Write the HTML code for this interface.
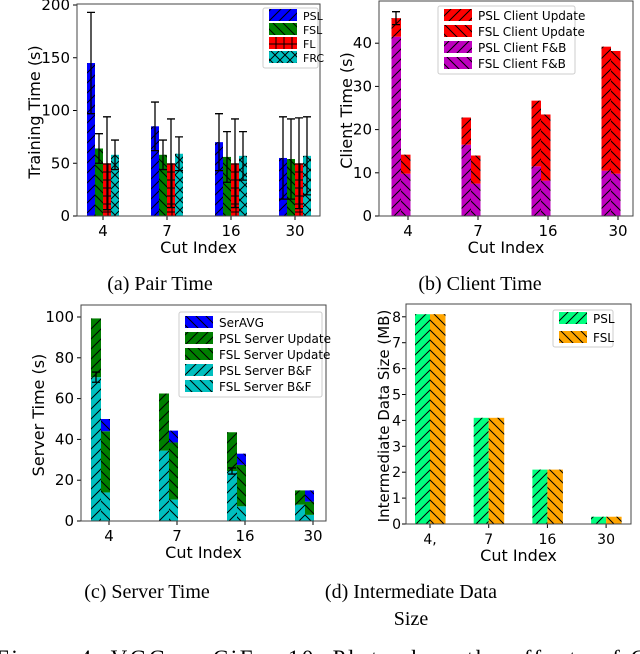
<!DOCTYPE html>
<html><head><meta charset="utf-8"><style>
body{margin:0;background:#fff;width:640px;height:654px;overflow:hidden}
svg{position:absolute;left:0;top:0}
text{font-family:"DejaVu Sans","Liberation Sans",sans-serif;fill:#000}
.cap{font-family:"Liberation Serif",serif;font-size:20px}
</style></head><body>
<svg id="s" width="640" height="654">
<defs>
<pattern id="pf" width="10" height="10" patternUnits="userSpaceOnUse"><path d="M-2,12 L12,-2 M-2,2 L2,-2 M8,12 L12,8" stroke="#000" stroke-width="1"/></pattern>
<pattern id="pb" width="10" height="10" patternUnits="userSpaceOnUse"><path d="M-2,-2 L12,12 M-2,8 L2,12 M8,-2 L12,2" stroke="#000" stroke-width="1"/></pattern>
<pattern id="pp" width="8" height="8" patternUnits="userSpaceOnUse"><path d="M4,0 V8 M0,4 H8" stroke="#000" stroke-width="1"/></pattern>
<pattern id="px" width="10" height="10" patternUnits="userSpaceOnUse"><path d="M0,0 L10,10 M10,0 L0,10" stroke="#000" stroke-width="1"/></pattern>
</defs>
<text class="cap" x="160" y="290" text-anchor="middle">(a) Pair Time</text>
<text class="cap" x="480" y="290" text-anchor="middle">(b) Client Time</text>
<text class="cap" x="147" y="598" text-anchor="middle">(c) Server Time</text>
<text class="cap" x="411" y="598" text-anchor="middle">(d) Intermediate Data</text>
<text class="cap" x="411" y="625" text-anchor="middle">Size</text>
<text class="cap" x="-4" y="666" style="font-size:23px" textLength="650">Figure 4: VGG on CiFar-10. Plots show the effects of C</text>
</svg>
<script>
const cats=["4","7","16","30"];
const catsD=["4,","7","16","30"];
// (a)
const aPSL=[145,85,70,55], aPSLerr=[48,23,27,39];
const aFSL=[64,58,56,54], aFSLerr=[14,14,24,38];
const aFL=[50,50,50,50], aFLerr=[44,42,42,43];
const aFRC=[58,59,57,57], aFRCerr=[14,16,23,37];
const aTicks=[0,50,100,150,200];
// (b)
const bPSLfb=[41.5,16.5,11.5,10.5], bPSLtot=[45.8,22.8,26.7,39.2];
const bFSLfb=[9.8,7.5,8.2,9.8], bFSLtot=[14.2,14,23.5,38.2];
const bTicks=[0,10,20,30,40];
// (c)
const cPSLbf=[70.5,34.5,24.5,8], cPSLtot=[99.3,62.5,43.5,15];
const cFSLbf=[14,10.5,7.2,3], cFSLupd=[44,38.5,27.5,9.5], cSerTot=[50,44.3,33,15];
const cTicks=[0,20,40,60,80,100];
// (d)
const dPSL=[8.1,4.1,2.1,0.28], dFSL=[8.1,4.1,2.1,0.28];
const dTicks=[0,1,2,3,4,5,6,7,8];

const S=document.getElementById('s');const NS="http://www.w3.org/2000/svg";
function el(t,a,p){const e=document.createElementNS(NS,t);for(const k in a)e.setAttribute(k,a[k]);(p||S).appendChild(e);return e;}
function txt(x,y,s,sz,anch,rot){const e=el('text',{x:x,y:y,'font-size':sz,'text-anchor':anch||'middle'});if(rot)e.setAttribute('transform','rotate(-90 '+x+' '+y+')');e.textContent=s;return e;}
function panel(P){
  const g=el('g',{});
  P.y=v=>P.b-(v-0)*P.k;P.x=i=>P.x0+i*P.dx;
  const tg=P.tg||7;
  P.ticks.forEach(t=>{const y=P.y(t);el('line',{x1:P.l-4,x2:P.l,y1:y,y2:y,stroke:'#000'},g);
    const e=txt(P.l-tg,y+5,String(t),P.ts,'end');});
  P.cats.forEach((c,i)=>{const x=P.x(i);el('line',{x1:x,x2:x,y1:P.b,y2:P.b+4,stroke:'#000'},g);
    const e=txt(x,P.b+20,c,P.ts);});
  let e=txt((P.l+P.r)/2,P.b+37,'Cut Index',16);
  e=txt(P.yl,(P.t+P.b)/2+2,P.ylab,P.ys||16,'middle',true);
  P.g=g;return P;
}
function frame(P){const f=el('rect',{x:P.l,y:P.t,width:P.r-P.l,height:P.b-P.t,fill:'none',stroke:'#444','stroke-width':1});}
function bar(P,x,w,v0,v1,col,pat,name){const y1=P.y(v1),y0=P.y(v0);
  const r=el('rect',{x:x,y:y1,width:w,height:y0-y1,fill:col});
  el('rect',{x:x,y:y1,width:w,height:y0-y1,fill:'url(#'+pat+')'});}
function err(P,cx,v,e){const a=P.y(v+e),b=P.y(v-e);el('path',{d:`M${cx},${a}V${b}M${cx-4},${a}H${cx+4}M${cx-4},${b}H${cx+4}`,stroke:'#000','stroke-width':1.3});}
function legend(x,y,w,h,items,fs,name){const g=el('g',{});
  el('rect',{x:x,y:y,width:w,height:h,fill:'#fff',stroke:'#ccc',rx:2},g);
  items.forEach((it,i)=>{el('rect',{x:x+6,y:it[3]-6,width:28,height:12,fill:it[1]},g);el('rect',{x:x+6,y:it[3]-6,width:28,height:12,fill:'url(#'+it[2]+')'},g);
    const t=txt(x+40,it[3]+5,it[0],fs,'start');g.appendChild(t);});}

// Panel a
const A=panel({name:'panel-pair-time',l:77,r:320,t:4,b:216,k:211/200,x0:103,dx:64,cats:cats,ticks:aTicks,ts:15,yl:40,ylab:'Training Time (s)'});
const aSer=[[aPSL,aPSLerr,'#0000ff','pf'],[aFSL,aFSLerr,'#007f00','pb'],[aFL,aFLerr,'#ff0000','pp'],[aFRC,aFRCerr,'#00bfbf','px']];
cats.forEach((c,i)=>aSer.forEach((s,j)=>{const x=A.x(i)-16+j*8;bar(A,x,8,0,s[0][i],s[2],s[3],'bar-a-'+j+'-'+c);}));
cats.forEach((c,i)=>aSer.forEach((s,j)=>{const x=A.x(i)-16+j*8;err(A,x+4,s[0][i],s[1][i]);}));
frame(A);
legend(263,8,55,60,[['PSL','#0000ff','pf',15],['FSL','#007f00','pb',29],['FL','#ff0000','pp',43],['FRC','#00bfbf','px',57]],11,'legend-a');

// Panel b
const B=panel({name:'panel-client-time',l:379,r:633,t:1,b:216,k:4.32,x0:408,dx:70,cats:cats,ticks:bTicks,ts:15,yl:352,ylab:'Client Time (s)'});
cats.forEach((c,i)=>{const x=B.x(i)-16.5;
  bar(B,x,9.5,0,bPSLfb[i],'#bf00bf','pf','bar-psl-client-fb-'+c);bar(B,x,9.5,bPSLfb[i],bPSLtot[i],'#ff0000','pf','bar-psl-client-update-'+c);
  bar(B,x+9.5,9.5,0,bFSLfb[i],'#bf00bf','pb','bar-fsl-client-fb-'+c);bar(B,x+9.5,9.5,bFSLfb[i],bFSLtot[i],'#ff0000','pb','bar-fsl-client-update-'+c);});
err(B,B.x(0)-12,bPSLtot[0],1.5);
frame(B);
legend(438,6,137,68,[['PSL Client Update','#ff0000','pf',15],['FSL Client Update','#ff0000','pb',31],['PSL Client F&B','#bf00bf','pf',47],['FSL Client F&B','#bf00bf','pb',63]],12,'legend-b');

// Panel c
const C=panel({name:'panel-server-time',l:81,r:326,t:305,b:521,k:2.04,x0:109,dx:68,cats:cats,ticks:cTicks,ts:15,yl:44,ylab:'Server Time (s)'});
cats.forEach((c,i)=>{const x=C.x(i)-18;
  bar(C,x,10,0,cPSLbf[i],'#00bfbf','pf','bar-psl-server-bf-'+c);bar(C,x,10,cPSLbf[i],cPSLtot[i],'#007f00','pf','bar-psl-server-update-'+c);
  bar(C,x+10,9,0,cFSLbf[i],'#00bfbf','pb','bar-fsl-server-bf-'+c);bar(C,x+10,9,cFSLbf[i],cFSLupd[i],'#007f00','pb','bar-fsl-server-update-'+c);
  bar(C,x+10,9,cFSLupd[i],cSerTot[i],'#0000ff','pb','bar-seravg-'+c);});
err(C,C.x(0)-13,cPSLbf[0],2.5);err(C,C.x(2)-13,cPSLbf[2],1.5);
frame(C);
legend(179,312,143,85,[['SerAVG','#0000ff','pb',322],['PSL Server Update','#007f00','pf',338],['FSL Server Update','#007f00','pb',354],['PSL Server B&F','#00bfbf','pf',370],['FSL Server B&F','#00bfbf','pb',386]],12,'legend-c');

// Panel d
const D=panel({name:'panel-intermediate-size',l:406,r:631,t:304,b:524,k:25.9,x0:430,dx:58.7,cats:catsD,ticks:dTicks,ts:14,tg:5,yl:389,ylab:'Intermediate Data Size (MB)',ys:15});
catsD.forEach((c,i)=>{const x=D.x(i)-15;
  bar(D,x,15,0,dPSL[i],'#00ff7f','pf','bar-psl-size-'+c);bar(D,x+15,15.5,0,dFSL[i],'#ffa500','pb','bar-fsl-size-'+c);});
frame(D);
legend(553,310,60,37,[['PSL','#00ff7f','pf',318],['FSL','#ffa500','pb',337]],12,'legend-d');
</script>
</body></html>
